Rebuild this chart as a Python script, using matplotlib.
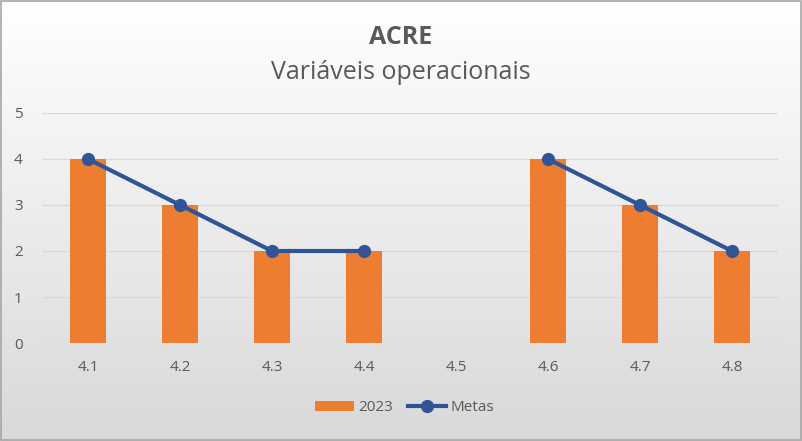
import matplotlib.pyplot as plt
import numpy as np
from matplotlib.patches import Rectangle

categories = ["4.1", "4.2", "4.3", "4.4", "4.5", "4.6", "4.7", "4.8"]
valores_2023 = [4, 3, 2, 2, np.nan, 4, 3, 2]
metas = [4, 3, 2, 2, np.nan, 4, 3, 2]

plt.rcParams['font.family'] = ['Open Sans', 'DejaVu Sans']

fig = plt.figure(figsize=(8.02, 4.41), dpi=100)

# gradient background, white at top to light gray at bottom
bg = fig.add_axes([0, 0, 1, 1], zorder=-10)
grad = np.linspace(1.0, 0.85, 256).reshape(-1, 1)
bg.imshow(np.dstack([grad, grad, grad]), aspect='auto', extent=[0, 1, 0, 1])
bg.add_patch(Rectangle((0.001, 0.002), 0.998, 0.996, fill=False,
                       edgecolor='#a6a6a6', lw=1.2, transform=bg.transAxes))
bg.axis('off')

ax = fig.add_axes([0.0524, 0.2222, 0.9176, 0.5216])
ax.patch.set_alpha(0)
x = np.arange(len(categories))
bars = ax.bar(x, valores_2023, width=0.4, color='#ED7D31', zorder=2, label='2023')
line, = ax.plot(x, metas, color='#2F5597', lw=3, marker='o', markersize=8.5,
                zorder=3, label='Metas')

ax.set_xlim(-0.5, len(categories) - 0.5)
ax.set_ylim(0, 5)
ax.set_yticks(range(6))
ax.set_xticks(x)
ax.set_xticklabels(categories)
ax.grid(axis='y', color='#d9d9d9', lw=1, zorder=0)
for s in ax.spines.values():
    s.set_visible(False)
ax.tick_params(length=0, labelsize=11, colors='#595959', pad=12)
ax.tick_params(axis='y', pad=14)

fig.text(0.5, 0.915, "ACRE", ha='center', va='center', fontsize=18,
         fontweight='bold', color='#595959')
fig.text(0.5, 0.835, "Variáveis operacionais", ha='center', va='center',
         fontsize=18, color='#595959')

fig.legend([bars, line], ['2023', 'Metas'], loc='center',
           bbox_to_anchor=(0.505, 0.075), ncol=2, frameon=False,
           fontsize=11, labelcolor='#595959', handlelength=2.5,
           columnspacing=1.0, handletextpad=0.3)

fig.savefig("out.png", dpi=100)
